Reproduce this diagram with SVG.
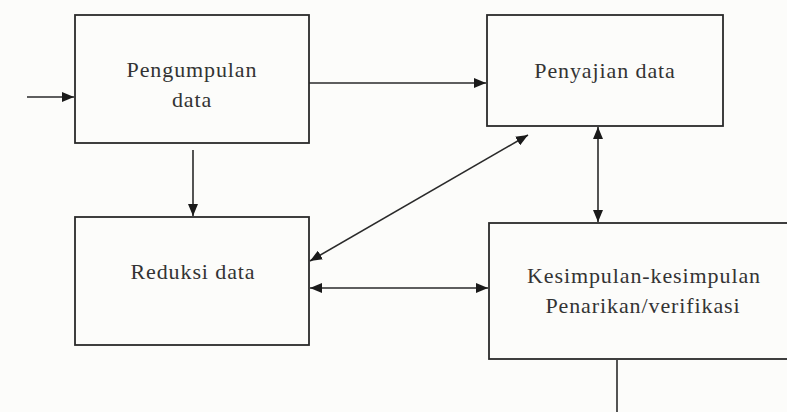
<svg xmlns="http://www.w3.org/2000/svg" width="787" height="412" viewBox="0 0 787 412">
<defs>
<style>
.box{fill:none;stroke:#2a2a2a;stroke-width:1.8}
.lbl{font-family:"Liberation Serif","Times New Roman",serif;font-size:22px;fill:#333;text-anchor:middle;letter-spacing:0.9px}
.con{stroke:#2a2a2a;stroke-width:1.6;fill:none}
</style>
<marker id="ah" viewBox="0 0 12 10" refX="12" refY="5" markerWidth="12" markerHeight="10" markerUnits="userSpaceOnUse" orient="auto-start-reverse">
<path d="M0,0 L12,5 L0,10 z" fill="#1a1a1a"/>
</marker>
</defs>
<rect width="787" height="412" fill="#fcfcfa"/>
<g id="pengumpulan">
<rect class="box" x="75" y="15" width="234" height="128"/>
<text class="lbl" x="192" y="77">Pengumpulan</text>
<text class="lbl" x="192" y="107">data</text>
</g>
<g id="penyajian">
<rect class="box" x="487" y="15" width="236" height="111"/>
<text class="lbl" x="605" y="78">Penyajian data</text>
</g>
<g id="reduksi">
<rect class="box" x="75" y="217" width="234" height="128"/>
<text class="lbl" x="193" y="279">Reduksi data</text>
</g>
<g id="kesimpulan">
<rect class="box" x="489" y="223" width="310" height="136"/>
<text class="lbl" x="644" y="283">Kesimpulan-kesimpulan</text>
<text class="lbl" x="643" y="313">Penarikan/verifikasi</text>
</g>
<g id="connectors">
<line class="con" x1="27" y1="97" x2="74" y2="97" marker-end="url(#ah)"/>
<line class="con" x1="309" y1="83" x2="486" y2="83" marker-end="url(#ah)"/>
<line class="con" x1="193" y1="150" x2="193" y2="216" marker-end="url(#ah)"/>
<line class="con" x1="310" y1="261" x2="528" y2="135" marker-start="url(#ah)" marker-end="url(#ah)"/>
<line class="con" x1="310" y1="288" x2="488" y2="288" marker-start="url(#ah)" marker-end="url(#ah)"/>
<line class="con" x1="598" y1="127" x2="598" y2="222" marker-start="url(#ah)" marker-end="url(#ah)"/>
<line class="con" x1="617" y1="360" x2="617" y2="412"/>
</g>
</svg>
